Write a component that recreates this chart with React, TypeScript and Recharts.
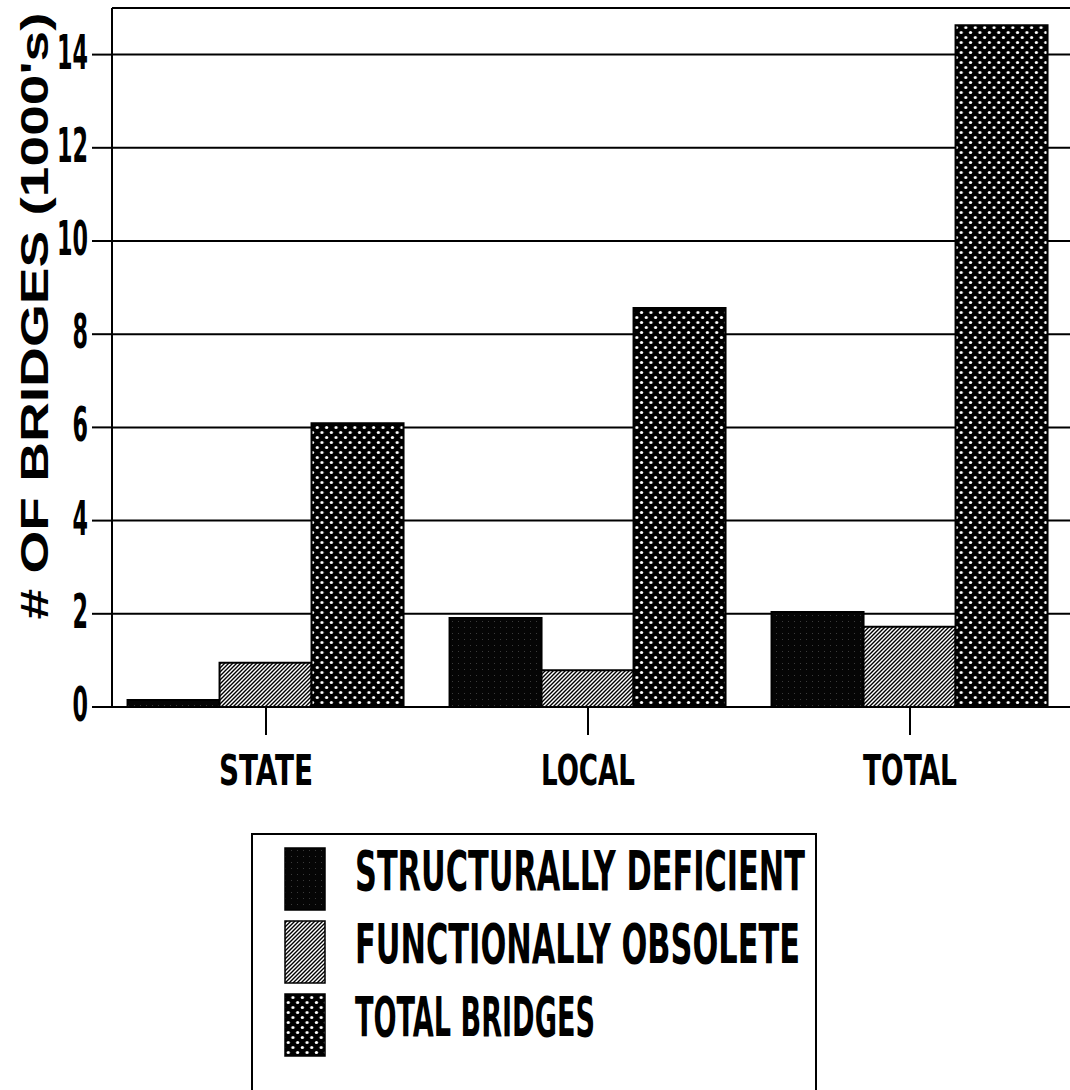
import React from "react";
import {
  BarChart,
  Bar,
  XAxis,
  YAxis,
  CartesianGrid,
  ReferenceLine,
  Legend,
} from "recharts";

const categories = ["STATE", "LOCAL", "TOTAL"];
const structurallyDeficient = [0.15, 1.91, 2.04];
const functionallyObsolete = [0.95, 0.79, 1.72];
const totalBridges = [6.09, 8.56, 14.63];
const yTicks = [0, 2, 4, 6, 8, 10, 12, 14];

const seriesKeys = ["sd", "fo", "tb"];
const seriesNames = [
  "STRUCTURALLY DEFICIENT",
  "FUNCTIONALLY OBSOLETE",
  "TOTAL BRIDGES",
];

const data = categories.map((category, i) => ({
  category,
  sd: structurallyDeficient[i],
  fo: functionallyObsolete[i],
  tb: totalBridges[i],
}));

const narrow = "'Liberation Sans Narrow', 'DejaVu Sans Condensed', Arial, sans-serif";
const wide = "'Liberation Sans', Arial, sans-serif";

function Patterns({ prefix }: { prefix: string }) {
  return (
    <defs>
      <pattern id={`${prefix}-sd`} width="6" height="6" patternUnits="userSpaceOnUse">
        <rect width="6" height="6" fill="#050505" />
        <rect x="2" y="3" width="1" height="1" fill="#3a3a3a" />
      </pattern>
      <pattern id={`${prefix}-fo`} width="4" height="4" patternUnits="userSpaceOnUse">
        <rect width="4" height="4" fill="#fff" />
        <path d="M0,4 L4,0 M-1,1 L1,-1 M3,5 L5,3" stroke="#000" strokeWidth="1.4" />
      </pattern>
      <pattern id={`${prefix}-tb`} width="9.4" height="10" patternUnits="userSpaceOnUse">
        <rect width="9.4" height="10" fill="#000" />
        <circle cx="2.35" cy="2.5" r="1.6" fill="#fff" />
        <circle cx="7.05" cy="7.5" r="1.6" fill="#fff" />
      </pattern>
    </defs>
  );
}

function YTick(props: any) {
  const { x, y, payload } = props;
  const s = String(payload.value);
  return (
    <text
      x={x}
      y={y + 14}
      textAnchor="end"
      fontFamily={narrow}
      fontWeight={700}
      fontSize={48}
      fill="#000"
      textLength={s.length * 15.5}
      lengthAdjust="spacingAndGlyphs"
    >
      {s}
    </text>
  );
}

function XTick(props: any) {
  const { x, y, payload } = props;
  return (
    <text
      x={x}
      y={y + 48}
      textAnchor="middle"
      fontFamily={narrow}
      fontWeight={700}
      fontSize={42}
      fill="#000"
      textLength={94}
      lengthAdjust="spacingAndGlyphs"
    >
      {payload.value}
    </text>
  );
}

function YLabel() {
  return (
    <text
      x={48}
      y={316}
      transform="rotate(-90, 48, 316)"
      textAnchor="middle"
      fontFamily={wide}
      fontWeight={700}
      fontSize={39}
      fill="#000"
      textLength={607}
      lengthAdjust="spacingAndGlyphs"
    >
      # OF BRIDGES (1000's)
    </text>
  );
}

const legendWidths = [450, 445, 240];
const squeeze = 0.6;

function LegendBox() {
  return (
    <div
      style={{
        width: 566,
        height: 280,
        border: "2px solid #000",
        boxSizing: "border-box",
        background: "#fff",
      }}
    >
      <svg width={562} height={276}>
        <Patterns prefix="lg" />
        {seriesKeys.map((k, i) => (
          <g key={k}>
            <rect
              x={32}
              y={13 + i * 73}
              width={40}
              height={62}
              fill={`url(#lg-${k})`}
              stroke="#000"
              strokeWidth={1.5}
            />
            <g transform={`translate(102, ${55 + i * 73}) scale(${squeeze}, 1)`}>
              <text
                x={0}
                y={0}
                fontFamily={narrow}
                fontWeight={700}
                fontSize={56}
                fill="#000"
                textLength={legendWidths[i] / squeeze}
                lengthAdjust="spacingAndGlyphs"
              >
                {seriesNames[i]}
              </text>
            </g>
          </g>
        ))}
      </svg>
    </div>
  );
}

export default function App() {
  return (
    <div
      style={{
        position: "absolute",
        left: 0,
        top: 0,
        width: 1070,
        height: 1090,
        background: "#fff",
        overflow: "hidden",
      }}
    >
      <BarChart
        width={1070}
        height={1090}
        data={data}
        margin={{ top: 8, right: 0, left: 0, bottom: 293 }}
        barCategoryGap="7%"
        barGap={0}
      >
        <Patterns prefix="bar" />
        <CartesianGrid vertical={false} stroke="#000" strokeWidth={2} />
        <XAxis
          dataKey="category"
          height={90}
          padding={{ left: -7, right: -1 }}
          axisLine={{ stroke: "#000", strokeWidth: 2 }}
          tickLine={{ stroke: "#000", strokeWidth: 2 }}
          tickSize={28}
          tick={<XTick />}
          interval={0}
        />
        <YAxis
          width={112}
          domain={[0, 15]}
          ticks={yTicks}
          interval={0}
          axisLine={{ stroke: "#000", strokeWidth: 2 }}
          tickLine={{ stroke: "#000", strokeWidth: 2 }}
          tickSize={20}
          tickMargin={4}
          tick={<YTick />}
          label={<YLabel />}
        />
        <ReferenceLine y={15} stroke="#000" strokeWidth={2} />
        {seriesKeys.map((k, i) => (
          <Bar
            key={k}
            dataKey={k}
            name={seriesNames[i]}
            fill={`url(#bar-${k})`}
            stroke="#000"
            strokeWidth={2}
            isAnimationActive={false}
          />
        ))}
        <Legend
          layout="vertical"
          verticalAlign="middle"
          align="center"
          content={<LegendBox />}
          wrapperStyle={{ position: "absolute", left: 251, top: 833, width: 566, height: 280 }}
        />
      </BarChart>
    </div>
  );
}
